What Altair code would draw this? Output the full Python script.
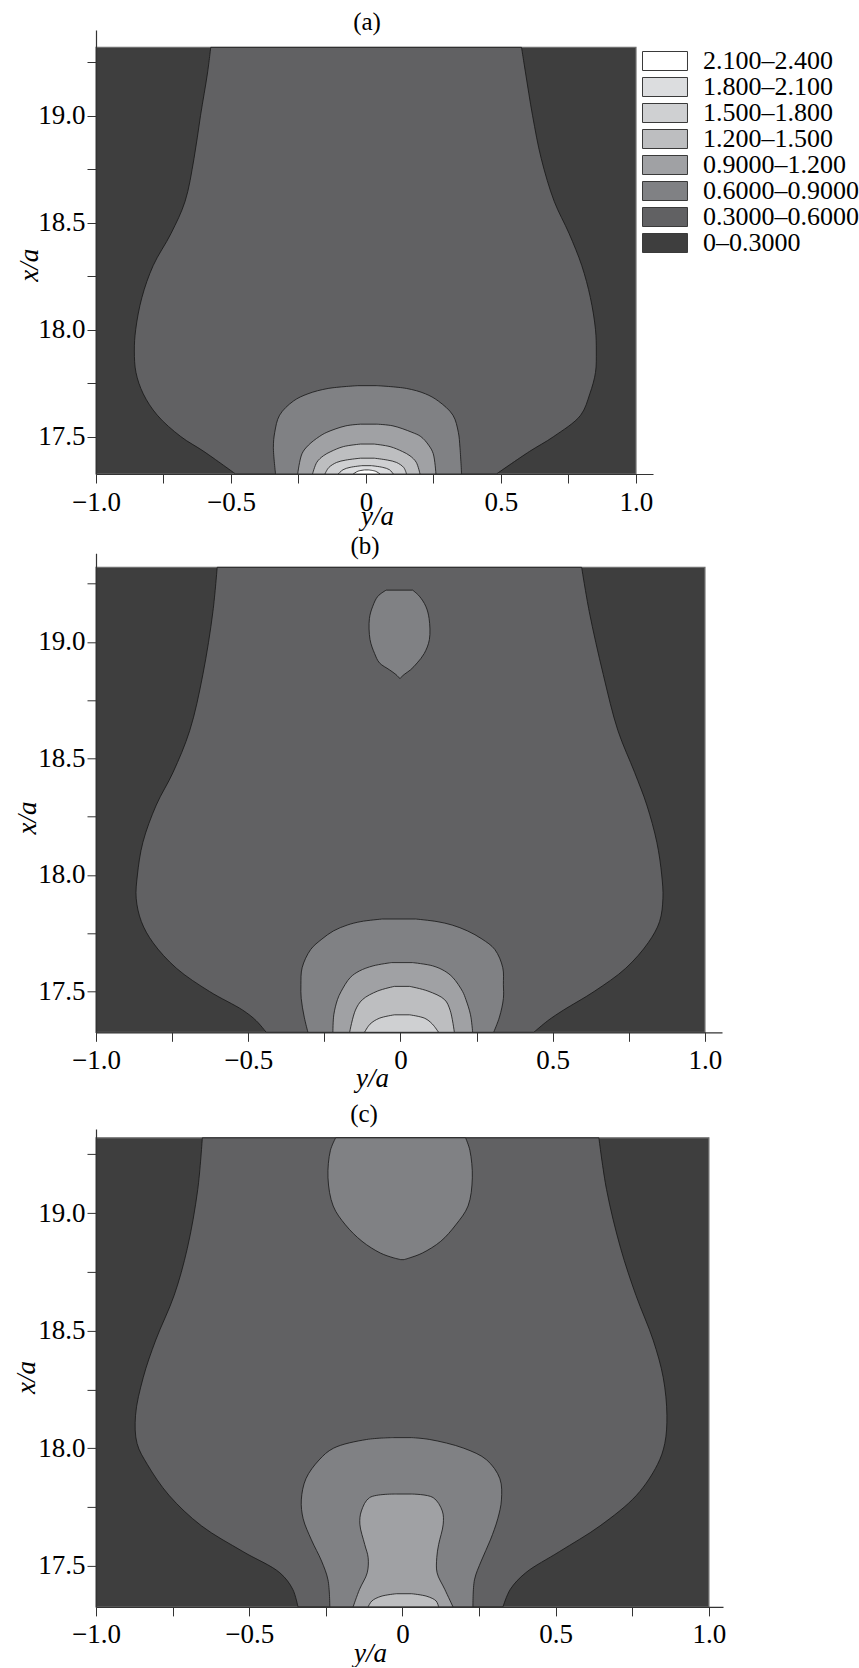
import altair as alt
import pandas as pd

FONT = "Liberation Serif"

# Contour level classes (legend order, top to bottom) and their grey fills
LEVELS = ["2.100–2.400", "1.800–2.100", "1.500–1.800", "1.200–1.500",
          "0.9000–1.200", "0.6000–0.9000", "0.3000–0.6000", "0–0.3000"]
COLORS = ["#ffffff", "#dcdddf", "#cfd0d2", "#bdbec0",
          "#a0a1a4", "#808184", "#616163", "#3e3e3e"]

X_BOTTOM, X_TOP = 17.325, 19.32

# ---- panel (a): boundaries of each level set, x/a rows with left/right y/a
A_B1_XA = [19.32, 19.2, 19.0, 18.8, 18.6, 18.45, 18.3, 18.15, 18.0, 17.9, 17.8, 17.7, 17.6, 17.5, 17.43, 17.325]
A_B1_L = [-0.575, -0.587, -0.613, -0.637, -0.670, -0.722, -0.788, -0.830, -0.853, -0.858, -0.852, -0.825, -0.773, -0.686, -0.600, -0.483]
A_B1_R = [0.576, 0.591, 0.617, 0.649, 0.697, 0.752, 0.799, 0.831, 0.850, 0.853, 0.850, 0.829, 0.795, 0.695, 0.605, 0.483]

A_B2_XA = [17.738, 17.725, 17.70, 17.666, 17.60, 17.52, 17.45, 17.325]
A_B2_L = [-0.03, -0.14, -0.215, -0.269, -0.32, -0.338, -0.343, -0.335]
A_B2_R = [0.04, 0.15, 0.22, 0.268, 0.322, 0.342, 0.348, 0.354]

A_B3_XA = [17.558, 17.55, 17.52, 17.50, 17.46, 17.42, 17.325]
A_B3_L = [-0.02, -0.075, -0.145, -0.173, -0.213, -0.237, -0.253]
A_B3_R = [0.04, 0.10, 0.17, 0.203, 0.232, 0.249, 0.259]

A_B4_XA = [17.465, 17.453, 17.43, 17.41, 17.38, 17.325]
A_B4_L = [-0.02, -0.084, -0.13, -0.158, -0.182, -0.198]
A_B4_R = [0.03, 0.089, 0.135, 0.163, 0.186, 0.200]

A_B5_XA = [17.399, 17.39, 17.379, 17.355, 17.325]
A_B5_L = [-0.02, -0.075, -0.109, -0.138, -0.152]
A_B5_R = [0.03, 0.08, 0.113, 0.14, 0.150]

A_B6_XA = [17.364, 17.356, 17.345, 17.325]
A_B6_L = [-0.015, -0.059, -0.085, -0.103]
A_B6_R = [0.02, 0.062, 0.087, 0.101]

A_B7_XA = [17.344, 17.338, 17.325]
A_B7_L = [-0.005, -0.03, -0.047]
A_B7_R = [0.01, 0.035, 0.052]

# ---- panel (b)
B_B1_XA = [19.32, 19.13, 18.86, 18.62, 18.44, 18.30, 18.14, 18.0, 17.9, 17.8, 17.71, 17.6, 17.5, 17.42, 17.375, 17.325]
B_B1_L = [-0.602, -0.616, -0.649, -0.692, -0.747, -0.802, -0.846, -0.864, -0.868, -0.851, -0.813, -0.736, -0.627, -0.518, -0.474, -0.441]
B_B1_R = [0.595, 0.620, 0.666, 0.714, 0.769, 0.809, 0.842, 0.858, 0.862, 0.851, 0.814, 0.740, 0.636, 0.535, 0.484, 0.438]

B_TOP_XA = [19.222, 19.196, 19.153, 19.10, 19.01, 18.95, 18.91, 18.88, 18.86, 18.844]
B_TOP_L = [-0.047, -0.074, -0.091, -0.102, -0.100, -0.085, -0.069, -0.036, -0.015, -0.003]
B_TOP_R = [0.040, 0.062, 0.083, 0.094, 0.095, 0.078, 0.055, 0.033, 0.012, -0.001]

B_B2_XA = [17.811, 17.80, 17.785, 17.76, 17.725, 17.68, 17.602, 17.53, 17.47, 17.39, 17.325]
B_B2_L = [-0.06, -0.13, -0.175, -0.22, -0.258, -0.295, -0.323, -0.327, -0.326, -0.316, -0.304]
B_B2_R = [0.05, 0.12, 0.17, 0.22, 0.268, 0.31, 0.336, 0.338, 0.338, 0.325, 0.306]

B_B3_XA = [17.624, 17.61, 17.588, 17.56, 17.50, 17.465, 17.40, 17.325]
B_B3_L = [-0.03, -0.09, -0.135, -0.165, -0.195, -0.207, -0.219, -0.222]
B_B3_R = [0.04, 0.106, 0.145, 0.172, 0.204, 0.215, 0.23, 0.237]

B_B4_XA = [17.522, 17.502, 17.465, 17.42, 17.325]
B_B4_L = [-0.02, -0.075, -0.125, -0.148, -0.167]
B_B4_R = [0.03, 0.090, 0.145, 0.163, 0.177]

B_B5_XA = [17.40, 17.385, 17.36, 17.325]
B_B5_L = [-0.02, -0.07, -0.10, -0.118]
B_B5_R = [0.03, 0.08, 0.105, 0.125]

# ---- panel (c)
C_B1_XA = [19.32, 19.1, 18.85, 18.65, 18.46, 18.3, 18.14, 18.02, 17.93, 17.8, 17.67, 17.56, 17.47, 17.4, 17.325]
C_B1_L = [-0.653, -0.668, -0.702, -0.745, -0.805, -0.846, -0.871, -0.866, -0.832, -0.762, -0.656, -0.52, -0.40, -0.358, -0.341]
C_B1_R = [0.641, 0.666, 0.712, 0.762, 0.818, 0.851, 0.863, 0.856, 0.832, 0.764, 0.645, 0.512, 0.402, 0.352, 0.328]

C_TOP_XA = [19.32, 19.267, 19.15, 19.03, 18.95, 18.88, 18.83, 18.81, 18.802]
C_TOP_L = [-0.218, -0.235, -0.243, -0.226, -0.186, -0.132, -0.072, -0.03, -0.005]
C_TOP_R = [0.206, 0.220, 0.228, 0.214, 0.174, 0.125, 0.065, 0.025, 0.005]

C_B2_XA = [18.045, 18.037, 18.0, 17.95, 17.87, 17.78, 17.70, 17.61, 17.52, 17.44, 17.325]
C_B2_L = [-0.03, -0.117, -0.225, -0.272, -0.315, -0.330, -0.324, -0.297, -0.264, -0.243, -0.237]
C_B2_R = [0.03, 0.089, 0.20, 0.275, 0.318, 0.323, 0.311, 0.287, 0.257, 0.235, 0.230]

C_B3_XA = [17.805, 17.79, 17.733, 17.677, 17.59, 17.535, 17.47, 17.40, 17.325]
C_B3_L = [-0.02, -0.107, -0.134, -0.139, -0.123, -0.112, -0.115, -0.140, -0.161]
C_B3_R = [0.03, 0.100, 0.130, 0.133, 0.118, 0.112, 0.113, 0.138, 0.165]

C_B4_XA = [17.381, 17.37, 17.35, 17.325]
C_B4_L = [-0.02, -0.07, -0.10, -0.112]
C_B4_R = [0.03, 0.08, 0.11, 0.118]

X_TICKS = [-1.0, -0.75, -0.5, -0.25, 0.0, 0.25, 0.5, 0.75, 1.0]
Y_TICKS = [17.5, 17.75, 18.0, 18.25, 18.5, 18.75, 19.0, 19.25]

PANEL_A = [("0.3000–0.6000", A_B1_XA, A_B1_L, A_B1_R),
           ("0.6000–0.9000", A_B2_XA, A_B2_L, A_B2_R),
           ("0.9000–1.200", A_B3_XA, A_B3_L, A_B3_R),
           ("1.200–1.500", A_B4_XA, A_B4_L, A_B4_R),
           ("1.500–1.800", A_B5_XA, A_B5_L, A_B5_R),
           ("1.800–2.100", A_B6_XA, A_B6_L, A_B6_R),
           ("2.100–2.400", A_B7_XA, A_B7_L, A_B7_R)]
PANEL_B = [("0.3000–0.6000", B_B1_XA, B_B1_L, B_B1_R),
           ("0.6000–0.9000", B_TOP_XA, B_TOP_L, B_TOP_R),
           ("0.6000–0.9000", B_B2_XA, B_B2_L, B_B2_R),
           ("0.9000–1.200", B_B3_XA, B_B3_L, B_B3_R),
           ("1.200–1.500", B_B4_XA, B_B4_L, B_B4_R),
           ("1.500–1.800", B_B5_XA, B_B5_L, B_B5_R)]
PANEL_C = [("0.3000–0.6000", C_B1_XA, C_B1_L, C_B1_R),
           ("0.6000–0.9000", C_TOP_XA, C_TOP_L, C_TOP_R),
           ("0.6000–0.9000", C_B2_XA, C_B2_L, C_B2_R),
           ("0.9000–1.200", C_B3_XA, C_B3_L, C_B3_R),
           ("1.200–1.500", C_B4_XA, C_B4_L, C_B4_R)]

COLOR_SCALE = alt.Scale(domain=LEVELS, range=COLORS)

LEGEND = alt.Legend(
    title=None, orient="none", legendX=556, legendY=18,
    symbolType="M-2.368,-1H2.368V1H-2.368Z", symbolSize=361,
    symbolStrokeColor="#3a3a3a", symbolStrokeWidth=1, symbolOpacity=1,
    labelFont=FONT, labelFontSize=26, labelColor="black", labelOffset=25,
    labelLimit=0, rowPadding=0, padding=0,
)


def x_axis(title_x, title_y):
    return alt.Axis(
        values=X_TICKS, title="y/a",
        labelExpr="datum.value == 0 ? '0' : (abs(datum.value * 2) % 1 == 0 ? format(datum.value, '.1f') : '')",
        labelFont=FONT, labelFontSize=27, labelColor="black", labelPadding=6,
        labelOverlap=False, labelFlush=False,
        tickSize=9, tickColor="#333333", tickWidth=1,
        domainColor="#333333", domainWidth=1.2, grid=False, zindex=2,
        titleFont=FONT, titleFontSize=27, titleFontStyle="italic", titleFontWeight="normal",
        titleColor="black", titleX=title_x, titleY=title_y,
        titleAlign="center", titleBaseline="alphabetic",
    )


def y_axis(title_x, title_y):
    return alt.Axis(
        values=Y_TICKS, title="x/a",
        labelExpr="(datum.value * 2) % 1 == 0 ? format(datum.value, '.1f') : ''",
        labelFont=FONT, labelFontSize=27, labelColor="black", labelPadding=2,
        labelOverlap=False, labelFlush=False,
        tickSize=9, tickColor="#333333", tickWidth=1,
        domainColor="#333333", domainWidth=1.2, grid=False, zindex=2,
        titleFont=FONT, titleFontSize=27, titleFontStyle="italic", titleFontWeight="normal",
        titleColor="black", titleX=title_x, titleY=title_y, titleAngle=-90,
        titleAlign="center", titleBaseline="middle",
    )


def panel(tag, bands, x_max, y_max, width, height, title_dx, title_offset,
          xa_kw, ya_kw, legend):
    xs = alt.Scale(domain=[-1.0, x_max], nice=False, zero=False)
    ys = alt.Scale(domain=[X_BOTTOM, y_max], nice=False, zero=False)
    xax = x_axis(*xa_kw)
    yax = y_axis(*ya_kw)
    color = alt.Color("level:N", scale=COLOR_SCALE, legend=legend)

    frame = pd.DataFrame({"lo": [-1.0], "hi": [1.0], "xa": [X_BOTTOM], "xa2": [X_TOP],
                          "level": ["0–0.3000"]})
    layers = [
        alt.Chart(frame).mark_rect(stroke="#6e6e6e", strokeWidth=1.2).encode(
            x=alt.X("lo:Q", scale=xs, axis=xax),
            x2="hi:Q",
            y=alt.Y("xa:Q", scale=ys, axis=yax),
            y2="xa2:Q",
            color=color,
        )
    ]
    for level, xa, left, right in bands:
        df = pd.DataFrame({"xa": xa, "lo": left, "hi": right, "level": level})
        layers.append(
            alt.Chart(df).mark_area(
                orient="horizontal", interpolate="catmull-rom",
                stroke="#151515", strokeWidth=0.8, opacity=1,
            ).encode(
                y=alt.Y("xa:Q", scale=ys, axis=yax),
                x=alt.X("lo:Q", scale=xs, axis=xax),
                x2="hi:Q",
                color=color,
            )
        )
    return alt.layer(*layers).properties(
        width=width, height=height,
        title=alt.TitleParams(
            tag, anchor="start", align="center", frame="group", dx=title_dx,
            offset=title_offset, font=FONT, fontSize=25, fontWeight="normal",
            color="black", baseline="alphabetic",
        ),
    )


pa = panel("(a)", PANEL_A, 1.063, 19.401, 557, 444, 271, -25,
           (281, 50.5), (-67, 234.7), LEGEND)
pb = panel("(b)", PANEL_B, 1.056, 19.38, 626, 479, 269, -25.5,
           (276, 54), (-69, 264.3), None)
pc = panel("(c)", PANEL_C, 1.046, 19.358, 627, 478, 268, -18.3,
           (274, 54.5), (-70, 248), None)


def independent(ch):
    return (ch.resolve_scale(x="independent", y="independent", color="independent")
              .resolve_axis(x="independent", y="independent")
              .resolve_legend(color="independent"))


upper = independent(alt.vconcat(pa, pb, spacing=3.3))
chart = (
    independent(alt.vconcat(upper, pc, spacing=9.9))
    .properties(padding={"left": 12, "top": 10, "right": 0, "bottom": 0}, background="white")
    .configure_view(stroke=None)
)

chart.save("out.html", embed_options={"renderer": "svg", "actions": False})
